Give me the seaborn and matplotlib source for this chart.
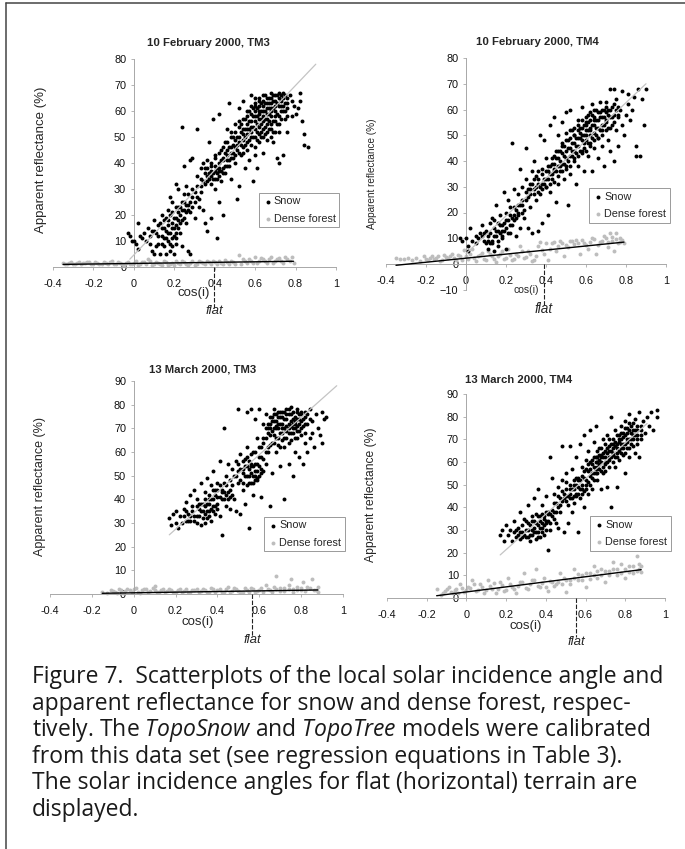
import matplotlib
matplotlib.use("Agg")
import matplotlib.pyplot as plt
import seaborn as sns

sns.set_style("white")
plt.rcParams['font.family'] = ['Liberation Sans', 'DejaVu Sans']
plt.rcParams['mathtext.fontset'] = 'custom'
plt.rcParams['mathtext.it'] = 'Open Sans:italic'
plt.rcParams['mathtext.rm'] = 'Open Sans'

W, H = 685, 849

# Values: flat lists of cos(i) in hundredths, reflectance in %.
# The reference clouds hold far more points than could be read one by one, so these lists
# are a hand-read sample of each cloud, not the original data.
feb_tm3_snow = [-3,13,-2,12,-1,10,0,10,1,9,2,17,3,12,2,7,4,11,5,13,6,10,7,15,8,12,9,14,9,6,10,18,10,5,11,13,12,16,12,9,13,5,14,20,14,12,15,15,15,8,16,11,16,5,17,18,17,13,17,22,18,27,18,9,18,6,19,15,19,25,20,19,20,12,20,5,21,32,21,16,21,9,22,23,22,18,22,30,23,13,23,20,24,54,24,25,24,8,25,39,25,22,25,28,26,17,26,31,27,24,27,6,28,41,28,21,28,5,29,42,29,27,30,29,30,19,31,53,31,35,32,26,33,38,33,31,34,40,34,22,35,36,35,17,36,41,36,14,37,36,37,48,38,39,38,19,39,34,39,57,40,42,40,30,41,11,41,36,42,38,42,25,42,59,43,45,43,33,44,20,44,41,45,36,45,48,46,43,46,53,47,39,47,63,48,46,48,34,49,44,49,50,50,40,50,55,51,26,51,47,52,31,52,61,53,43,53,52,54,49,54,64,55,38,55,57,56,45,56,51,57,60,57,41,58,47,58,54,58,66,59,33,59,58,60,50,60,63,60,43,61,55,61,38,62,60,62,48,62,65,63,52,63,57,64,62,64,44,65,54,65,66,66,59,66,49,67,63,67,56,68,61,68,53,69,66,69,64,69,48,70,58,70,62,71,42,71,66,72,40,72,55,73,60,73,64,74,43,74,67,75,57,75,63,76,61,76,52,77,66,78,64,78,58,79,62,80,59,81,61,82,67,82,64,83,56,84,51,84,47,86,46]
feb_tm3_snow_core = [10,14,12,12,13,17,14,15,15,11,16,14,16,19,17,16,18,13,18,20,19,11,19,17,20,15,21,13,21,19,21,23,22,15,22,21,23,17,24,18,24,22,25,25,26,21,26,24,27,22,28,25,29,23,30,25,31,27,32,23,33,29,34,33,35,38,36,33,36,35,36,38,38,32,38,35,38,37,38,40,40,34,40,37,40,39,40,43,42,35,42,37,42,40,42,44,44,36,44,38,44,42,44,46,46,39,46,41,46,45,46,48,48,42,48,44,48,50,48,52,50,43,50,46,50,49,50,52,52,44,52,48,52,50,52,54,52,56,54,44,54,46,54,51,54,53,54,57,56,48,56,53,56,55,56,58,56,60,58,50,58,52,58,56,58,59,58,62,60,46,60,53,60,56,60,58,60,60,60,62,60,65,62,51,62,54,62,57,62,59,62,62,62,64,64,50,64,53,64,56,64,58,64,60,64,64,64,66,66,52,66,55,66,57,66,61,66,63,66,65,68,50,68,55,68,58,68,60,68,63,68,65,68,67,70,52,70,56,70,60,70,64,70,66,72,52,72,58,72,62,72,65,72,67,74,60,74,62,74,65,76,58,76,63,76,65]
feb_tm3_snow_dense = [37,34,39,36,41,34,41,38,43,37,43,41,45,39,45,44,47,41,47,46,49,42,49,47,51,45,51,50,53,47,53,55,55,47,55,50,55,53,57,49,57,53,57,56,59,50,59,54,59,61,61,49,61,52,61,58,61,61,63,50,63,55,63,60,63,63,65,51,65,57,65,60,65,63,67,53,67,59,67,61,67,65,69,52,69,56,69,61,71,55,71,59,71,63,73,57,73,62,73,66,75,60,75,66,8,9,11,8,14,9,15,18,17,10,19,8,19,21,21,11,23,23,25,19,27,28,29,30,31,31,33,34,35,32]
feb_tm3_forest = [-35,1.5,-33,1,-31,1.8,-29,1.2,-27,2,-25,1.4,-23,1.8,-21,1,-19,2,-17,1.3,-15,1.9,-13,1,-11,2.2,-9,1.2,-7,1.7,-5,0.8,-3,2.1,-1,1.1,1,2.4,3,1,5,1.8,7,3,9,0.8,11,2,13,1.2,15,2.3,17,0.9,19,1.6,21,2.5,23,1,25,1.9,27,0.9,29,2.4,31,1.3,33,2,35,1,37,1.8,39,2.3,41,1,43,1.5,45,2.6,47,1,49,1.9,52,4.6,53,1.2,55,2.2,57,3,59,1.5,60,3.8,62,2.2,64,3.2,66,1.4,68,4,70,2.5,72,3.4,74,1.6,76,3,78,3.8,79,1.5]
feb_tm3_forest_core = [-34,1.2,-32,1.6,-30,1,-28,1.6,-26,1.1,-24,1.5,-22,2,-20,1.3,-18,1.7,-16,1,-14,1.5,-12,2,-10,1.1,-8,1.8,-6,1.2,-4,1.6,-2,1,0,1.7,2,0.8,4,2,6,1.2,8,2.2,10,1.2,12,1.7,14,0.9,16,2,18,1.3,20,0.8,22,1.7,24,2.3,26,1.2,28,1.7,30,0.9,32,2.2,34,1.5,36,2.4,38,1,40,1.8,42,2.4,44,1.1,46,1.8,48,2.3,50,1.2,54,3,56,1.4,58,2.2,61,1.4,63,3.6,65,2.4,67,3.2,69,1.6,71,3.2,73,2.4,75,3.8,77,2.2]
feb_tm3_grey_line = [-2,3,90,78]
feb_tm3_black_line = [-35,1,79,2.2]

feb_tm4_snow = [-3,10,-2,9,0,10,1,7,1,5,2,14,3,9,5,11,5,8,6,10,7,12,8,15,9,9,10,13,11,11,11,6,12,16,13,8,13,18,14,14,14,5,15,23,15,11,16,16,16,7,17,12,17,19,18,10,18,15,19,28,19,13,20,20,20,6,21,17,21,25,22,12,22,19,23,47,23,15,24,22,24,29,25,18,25,11,26,27,26,20,27,37,27,14,28,30,28,23,29,18,30,45,30,33,31,26,31,14,32,31,32,22,33,36,33,12,34,29,34,40,35,25,35,34,36,13,36,31,37,50,37,27,38,37,38,16,39,33,39,48,40,30,40,41,41,19,41,36,42,54,42,28,43,39,43,33,44,57,44,37,45,24,45,44,46,31,46,50,47,40,47,36,48,55,48,46,49,33,49,42,50,59,50,38,51,23,51,48,52,60,52,35,53,44,53,52,54,40,54,50,55,31,55,46,56,56,56,38,57,49,57,53,58,43,58,61,59,47,59,36,60,55,60,50,61,42,61,58,62,52,62,47,63,62,63,36,64,56,64,45,65,53,65,60,66,49,66,41,67,57,67,63,68,52,68,46,69,60,69,38,70,55,70,63,71,48,71,58,72,68,72,44,73,61,73,54,74,40,74,68,75,52,75,64,76,57,76,46,77,60,78,67,78,54,79,50,80,58,81,62,81,66,82,56,83,60,84,65,85,46,85,42,86,68,87,42,88,64,89,54,90,68]
feb_tm4_snow_core = [8,11,10,8,12,12,13,9,14,17,15,13,16,9,17,15,18,11,19,16,20,14,21,12,22,22,23,18,24,17,25,21,26,19,27,23,28,25,29,21,30,25,31,29,32,27,33,31,34,27,35,30,36,28,36,33,38,29,38,31,38,35,40,30,40,33,40,36,42,31,42,35,42,38,44,32,44,36,44,39,44,42,46,34,46,38,46,41,46,44,48,36,48,39,48,43,48,47,50,37,50,41,50,44,50,48,50,51,52,38,52,42,52,45,52,49,52,52,54,41,54,44,54,47,54,50,54,53,56,42,56,46,56,49,56,52,56,54,58,44,58,48,58,50,58,53,58,56,60,44,60,48,60,52,60,54,60,57,62,46,62,50,62,53,62,56,62,59,64,48,64,51,64,54,64,57,64,60,66,49,66,53,66,56,66,59,68,50,68,54,68,57,68,60,70,52,70,56,70,59,70,61,72,53,72,57,72,60,74,55,74,58,74,62,76,58,76,61]
feb_tm4_snow_dense = [37,30,39,31,41,33,41,38,43,35,43,41,45,36,45,41,47,38,47,44,49,39,49,46,51,40,51,45,53,42,53,47,55,43,55,49,57,44,57,51,59,45,59,50,59,54,61,47,61,52,61,55,63,49,63,54,63,58,65,50,65,56,67,52,67,59,69,54,69,57,71,53,71,60,73,57,75,60,9,12,11,9,12,8,14,11,16,13,18,13,20,17,22,15,24,19,26,23,28,20,30,28,32,29,34,33,36,36]
feb_tm4_forest = [-35,2.2,-33,2,-31,1.8,-29,2.4,-27,1.5,-25,2.5,-23,1.2,-21,3,-19,1.6,-17,3.2,-15,2.2,-13,1,-11,3.4,-9,2.2,-7,4,-5,1.4,-3,3,-1,5.6,1,2,3,6,5,1,7,3.5,9,2,11,5,13,3,15,0.8,17,4,19,2,21,6,23,1.4,25,4,27,7,29,2.2,31,5,33,1.2,35,3,37,8.5,39,4,41,1.5,43,8,45,5,47,9,49,3,51,6.5,53,8.8,55,9.5,57,3.8,59,8,61,6,63,10,65,4,67,8.5,69,11,71,6.5,72,12,73,9,74,5,75,12,76,8,77,10,79,8]
feb_tm4_forest_core = [-20,2,-18,2.4,-16,2,-14,3,-12,1.5,-10,2.8,-8,3.2,-6,2.2,-4,3.6,-2,1.4,0,3.2,2,4,4,2.4,6,3.2,8,4.2,10,1.6,12,3.8,14,2,16,3,18,5,20,2.4,22,3.6,24,1.8,26,3,28,5,30,2.6,32,3.8,34,1.6,36,7,38,5.5,40,8,42,6,44,8.4,46,7,48,8,50,7.4,52,9,54,7.6,56,8.2,58,9.4,60,7.4,62,8.4,64,9.6,66,7.2,68,9,70,10.2,71,8.4,73,10.6,75,9.6,77,8.6,78,9.4]
feb_tm4_grey_line = [0,4,90,70]
feb_tm4_black_line = [-35,-0.5,79,8.5]

mar_tm3_snow = [17,32,18,29,19,34,20,30,20,35,21,28,22,33,23,30,24,36,25,31,25,39,26,34,27,42,27,31,28,37,29,33,29,44,30,30,30,40,31,36,32,29,32,47,33,38,33,32,34,43,34,30,35,49,35,35,36,40,36,33,37,46,37,31,38,37,38,52,39,42,39,34,40,47,40,38,41,56,41,33,42,25,42,44,43,70,43,40,44,50,44,37,45,43,45,55,46,41,46,36,47,53,47,46,48,40,49,56,49,35,50,78,50,47,51,59,51,34,52,51,52,44,53,57,53,38,54,77,54,62,55,50,55,28,56,54,56,78,57,60,57,42,58,52,58,74,59,66,59,48,60,58,60,78,61,53,61,41,62,72,62,64,63,55,63,76,64,70,64,60,65,67,65,37,66,73,66,51,67,64,67,78,68,71,68,60,69,75,69,66,70,54,70,77,71,68,71,72,72,40,72,62,73,78,73,74,74,55,74,70,75,79,75,65,76,72,76,50,77,75,77,60,78,78,78,69,79,58,79,74,80,67,80,77,81,55,81,71,82,75,82,64,83,60,83,72,84,78,85,68,85,73,86,62,87,76,88,70,89,67,90,64,90,77,91,74,92,75]
mar_tm3_snow_core = [24,33,26,31,28,35,30,33,30,37,32,35,32,38,34,34,34,37,34,40,36,35,36,38,36,42,38,35,38,40,38,44,40,36,40,41,40,44,42,40,42,43,44,42,44,46,46,44,46,48,48,50,50,52,50,55,52,47,52,53,52,56,54,46,54,50,54,54,54,58,56,47,56,51,56,55,56,59,58,48,58,50,58,55,58,60,60,50,60,54,60,62,62,52,62,57,62,66,64,62,64,68,64,72,66,64,66,69,66,75,68,66,68,70,68,73,68,76,70,62,70,68,70,72,70,75,72,66,72,70,72,74,72,77,74,64,74,68,74,72,74,76,74,78,76,68,76,70,76,74,76,77,78,66,78,71,78,74,78,77,80,70,80,73,80,76,82,68,82,72,82,77,84,74,84,66,69,72,71,75,73,71,75,73,77,72,79,76,67,70,65,72,63,66,61,62,59,52,57,50,55,53,53,50,51,48]
mar_tm3_snow_dense = [25,35,27,33,29,31,31,33,31,38,33,35,35,32,35,38,37,36,37,40,39,37,39,44,41,41,41,46,43,43,43,47,45,40,47,42,49,50,51,53,53,54,55,47,55,56,57,47,57,54,59,49,59,55,61,51,61,58,63,60,63,70,65,63,65,70,65,75,67,67,67,73,67,76,69,63,69,70,69,77,71,65,71,70,71,77,73,66,73,69,73,76,75,68,75,71,75,76,77,66,77,70,77,73,79,69,79,72,81,74,83,76]
mar_tm3_forest = [-15,1,-13,0.4,-11,1.6,-9,0.8,-7,2,-5,0.5,-3,2.2,-1,1,1,2.4,3,0.6,5,2,7,1,9,2.6,10,3.2,11,0.7,13,1.9,15,0.8,17,2.2,19,1,21,1.8,23,0.7,25,2,27,1,29,1.7,31,0.8,33,2,35,1,37,2.6,39,1,41,2.3,43,0.8,45,3,47,1.4,49,2,51,0.8,53,2.5,55,1,57,2,59,1.4,61,2.5,63,4,65,1.5,67,3,68,7.5,70,1.4,72,2.5,74,4,75,6.5,76,2,78,3,80,1.5,81,5,83,3,85,6.3,86,1.5,88,3]
mar_tm3_forest_core = [-10,1.4,-8,0.6,-6,1.6,-4,1.2,-2,1.5,0,2,2,1,4,1.5,6,2.2,8,1.2,10,1.8,12,1,14,2.2,16,1.2,18,1.8,20,0.8,22,2,24,1.4,26,1,28,1.6,30,2,32,1.1,34,1.6,36,0.8,38,2.2,40,1.6,42,1,44,2.2,46,0.9,48,2.4,50,1.4,52,0.8,54,1.8,56,2.4,58,0.8,60,1.8,62,1,64,2,66,0.9,68,2.2,70,2.6,72,1.3,74,2.2,76,0.9,78,1.8,80,2.6,82,1.2,84,2.4,87,1.8,88,1]
mar_tm3_grey_line = [17,25,97,88]
mar_tm3_black_line = [-15,0.3,88,1.7]

mar_tm4_snow = [17,28,18,30,19,25,20,32,21,28,22,30,23,25,24,34,25,27,26,31,27,38,27,26,28,29,29,35,30,27,31,41,31,30,32,25,33,36,33,28,34,44,34,31,35,26,35,37,36,48,36,29,37,34,37,27,38,41,38,31,39,36,39,28,40,45,40,33,41,21,41,37,42,62,42,30,43,53,43,39,44,35,44,46,45,42,45,33,46,49,46,31,47,44,47,38,48,67,48,52,49,29,49,46,50,43,50,55,51,41,51,33,52,67,52,48,53,38,53,57,54,50,54,42,55,45,55,62,56,29,56,53,57,68,57,44,58,48,58,58,59,40,59,72,60,50,60,61,61,46,61,65,62,54,62,74,63,59,63,48,64,69,64,55,65,62,65,76,66,52,66,60,67,66,67,57,68,63,68,48,69,70,69,55,70,65,70,59,71,49,71,72,72,61,72,67,73,40,73,80,74,64,74,70,75,58,75,74,76,49,76,66,77,72,77,61,78,68,78,76,79,63,79,71,80,55,80,78,81,66,81,73,82,62,82,81,83,70,83,76,84,67,84,74,85,64,85,79,86,72,86,68,87,62,87,82,88,74,88,70,89,78,90,73,91,80,92,76,93,82,94,74,96,80,96,83]
mar_tm4_snow_core = [24,29,26,28,28,27,28,32,30,30,30,34,32,28,32,32,34,29,34,34,36,27,36,32,36,36,38,29,38,33,38,37,40,30,40,34,40,38,42,33,42,37,44,38,44,42,46,40,46,45,48,43,48,47,50,45,50,48,50,51,52,44,52,46,52,50,54,45,54,48,54,52,56,46,56,49,56,52,58,46,58,50,58,54,60,48,60,52,60,57,62,50,62,57,62,60,64,52,64,58,64,62,66,55,66,58,66,62,66,65,68,56,68,60,68,62,68,66,70,56,70,60,70,62,70,68,72,58,72,62,72,65,72,70,74,60,74,63,74,66,74,68,76,62,76,64,76,68,76,72,78,64,78,66,78,70,78,73,80,64,80,68,80,72,80,75,82,66,82,70,82,74,82,77,84,70,84,72,84,77,86,70,86,74,86,76,88,72,88,76,65,57,63,55,61,56,59,53,57,52,55,50,67,61,69,64,71,64,73,68,75,67,77,69,79,68,81,69,83,73,85,72]
mar_tm4_snow_dense = [25,30,27,29,29,28,31,27,31,33,33,30,33,34,35,29,35,33,37,31,37,36,39,32,39,35,41,34,41,38,43,36,45,38,47,41,49,44,51,45,53,44,53,48,55,46,55,53,57,48,59,47,59,56,61,51,61,59,63,53,63,61,65,55,65,60,67,59,67,63,69,58,69,62,71,60,71,66,73,62,73,65,75,62,75,69,77,65,77,70,79,66,79,73,81,70,81,75,83,68,85,74]
mar_tm4_forest = [-15,4,-13,1.5,-11,3,-9,5,-7,2,-5,4,-3,6,-1,2.5,1,5,3,8,5,3,7,6,9,2,11,8,13,4,15,2,17,7,19,3,21,9,23,5,25,2,27,7,29,11,31,4,33,8,35,13,37,5,39,9,41,3,43,7,45,6,47,11,49,9,50,2.5,52,8,54,13,56,8,58,10,60,5,62,11,64,14,66,9,68,13,70,7,72,12,74,16,76,10,78,15,80,9,82,14,84,11,86,18.5,87,13,88,14]
mar_tm4_forest_core = [-12,2,-10,3.8,-8,2.8,-6,3.4,-4,2.4,-2,4.4,0,3.4,2,4.4,4,6,6,3.4,8,5,10,3.6,12,5.4,14,6.8,16,4,18,5.6,20,3.4,22,6.2,24,4,26,5.4,28,7.2,30,4.6,32,6.2,34,8,36,5.4,38,6.6,40,5,42,7.4,44,5.4,46,7,48,6,50,7.8,52,6,54,9,56,10.4,58,8,60,11,62,8.4,64,10,66,12,68,10.2,70,12,72,10,74,12.6,76,13,78,11,80,13,82,11.4,84,14,86,12,87,15,88,11.4]
mar_tm4_grey_line = [17,19,91,77]
mar_tm4_black_line = [-15,1,88,12.5]

titles = ["10 February 2000, TM3", "10 February 2000, TM4", "13 March 2000, TM3", "13 March 2000, TM4"]
x_ticks = [-0.4, -0.2, 0, 0.2, 0.4, 0.6, 0.8, 1]
x_labels = ["-0.4", "-0.2", "0", "0.2", "0.4", "0.6", "0.8", "1"]
y_label = "Apparent reflectance (%)"
x_label = "cos(i)"
flat_label = "flat"

caption = [
    "Figure 7.  Scatterplots of the local solar incidence angle and",
    "apparent reflectance for snow and dense forest, respec-",
    "tively. The $\\mathit{TopoSnow}$ and $\\mathit{TopoTree}$ models were calibrated",
    "from this data set (see regression equations in Table 3).",
    "The solar incidence angles for flat (horizontal) terrain are",
    "displayed.",
]

panels = [
    dict(snow=feb_tm3_snow + feb_tm3_snow_core + feb_tm3_snow_dense, forest=feb_tm3_forest + feb_tm3_forest_core, grey=feb_tm3_grey_line, black=feb_tm3_black_line, title=titles[0],
         box=(53, 336, 59, 267), ylim=(0, 80), yticks=range(0, 81, 10), flat=0.395,
         ttl=(208, 43), yl=(41, 160, 9.5), xl=(194, 293, 9.5), fl=(214, 311, 9.5), fy=308, leg=(263, 193, 335, 227)),
    dict(snow=feb_tm4_snow + feb_tm4_snow_core + feb_tm4_snow_dense, forest=feb_tm4_forest + feb_tm4_forest_core, grey=feb_tm4_grey_line, black=feb_tm4_black_line, title=titles[1],
         box=(386, 666, 58, 264), ylim=(-10, 80), yticks=range(-10, 81, 10), flat=0.39,
         ttl=(537, 42), yl=(372, 174, 7.2), xl=(526, 290, 7.5), fl=(544, 309, 9.8), fy=305, leg=(594, 189, 665, 222)),
    dict(snow=mar_tm3_snow + mar_tm3_snow_core + mar_tm3_snow_dense, forest=mar_tm3_forest + mar_tm3_forest_core, grey=mar_tm3_grey_line, black=mar_tm3_black_line, title=titles[2],
         box=(50, 343, 381, 594), ylim=(0, 90), yticks=range(0, 91, 10), flat=0.565,
         ttl=(203, 369), yl=(40, 486, 9), xl=(198, 622, 9.5), fl=(252, 640, 9.5), fy=637, leg=(268, 517, 341, 551)),
    dict(snow=mar_tm4_snow + mar_tm4_snow_core + mar_tm4_snow_dense, forest=mar_tm4_forest + mar_tm4_forest_core, grey=mar_tm4_grey_line, black=mar_tm4_black_line, title=titles[3],
         box=(387, 665, 394, 598), ylim=(0, 90), yticks=range(0, 91, 10), flat=0.55,
         ttl=(519, 379), yl=(371, 495, 8.7), xl=(526, 626, 9.5), fl=(576, 642, 9.5), fy=637, leg=(596, 516, 665, 551)),
]

fig = plt.figure(figsize=(W / 100, H / 100), dpi=100)
fig.patch.set_facecolor("white")


def ftext(px, py, s, **kw):
    fig.text(px / W, 1 - py / H, s, ha=kw.pop("ha", "center"), va=kw.pop("va", "center"), **kw)


for p in panels:
    l, r, t, b = p["box"]
    ymin, ymax = p["ylim"]
    scale = (b - t) / ymax
    bottom_py = b - ymin * scale
    ax = fig.add_axes([l / W, 1 - bottom_py / H, (r - l) / W, (bottom_py - t) / H])
    ax.patch.set_alpha(0)
    ax.set_xlim(-0.4, 1)
    ax.set_ylim(ymin, ymax)

    fx = [v / 100 for v in p["forest"][::2]]
    fy = p["forest"][1::2]
    sx = [v / 100 for v in p["snow"][::2]]
    sy = p["snow"][1::2]
    sns.scatterplot(x=fx, y=fy, ax=ax, color="#bdbdbd", s=8, linewidth=0, label="Dense forest", zorder=2, clip_on=False)
    sns.scatterplot(x=sx, y=sy, ax=ax, color="black", s=8, linewidth=0, label="Snow", zorder=3, clip_on=False)

    g = p["grey"]
    ax.plot([g[0] / 100, g[2] / 100], [g[1], g[3]], color="#c4c4c4", lw=0.9, zorder=4)
    k = p["black"]
    ax.plot([k[0] / 100, k[2] / 100], [k[1], k[3]], color="black", lw=1.0, zorder=4, clip_on=False)

    for s in ("top", "right"):
        ax.spines[s].set_visible(False)
    ax.spines["left"].set_position(("data", 0))
    ax.spines["bottom"].set_position(("data", 0))
    for s in ("left", "bottom"):
        ax.spines[s].set_color("#a8a8a8")
        ax.spines[s].set_linewidth(0.7)
    ax.set_xticks(x_ticks)
    ax.set_xticklabels(x_labels)
    ax.set_yticks(list(p["yticks"]))
    ax.tick_params(axis="both", labelsize=7.8, length=2.5, width=0.6, color="#a8a8a8", labelcolor="#111111", pad=3, left=True, bottom=True)
    ax.tick_params(axis="x", pad=6)

    x0, y0, x1, y1 = p["leg"]
    handles, labels = ax.get_legend_handles_labels()
    leg = ax.legend(handles[::-1], labels[::-1], loc="center",
                    bbox_to_anchor=(((x0 + x1) / 2 - l) / (r - l), (bottom_py - (y0 + y1) / 2) / (bottom_py - t)),
                    fontsize=7.8, frameon=True, fancybox=False, framealpha=1, edgecolor="#9a9a9a",
                    borderpad=0.35, labelspacing=0.65, handletextpad=0.05, handlelength=1.0, borderaxespad=0)
    leg.get_frame().set_linewidth(0.7)
    leg.set_zorder(8)

    flat_px = l + (p["flat"] + 0.4) / 1.4 * (r - l)
    fig.add_artist(plt.Line2D([flat_px / W] * 2, [1 - b / H, 1 - p["fy"] / H], color="#222222", lw=0.8, ls=(0, (4, 1.5))))

    ftext(*p["ttl"], p["title"], fontsize=8.2, fontweight="bold")
    ftext(p["yl"][0], p["yl"][1], y_label, rotation=90, fontsize=p["yl"][2])
    ftext(p["xl"][0], p["xl"][1], x_label, fontsize=p["xl"][2])
    ftext(p["fl"][0], p["fl"][1], flat_label, fontsize=p["fl"][2], style="italic")

for i, line in enumerate(caption):
    ftext(32, 677 + i * 26.6, line, ha="left", fontsize=16.45, family=["Open Sans", "DejaVu Sans"], color="#1a1a1a",
          math_fontfamily="custom")

# Figure frame: top and left rules only
fig.add_artist(plt.Line2D([6 / W, 6 / W], [0, 1 - 3 / H], color="#444444", lw=1.1))
fig.add_artist(plt.Line2D([6 / W, 1], [1 - 3 / H, 1 - 3 / H], color="#444444", lw=1.1))

fig.savefig("out.png", dpi=100)
